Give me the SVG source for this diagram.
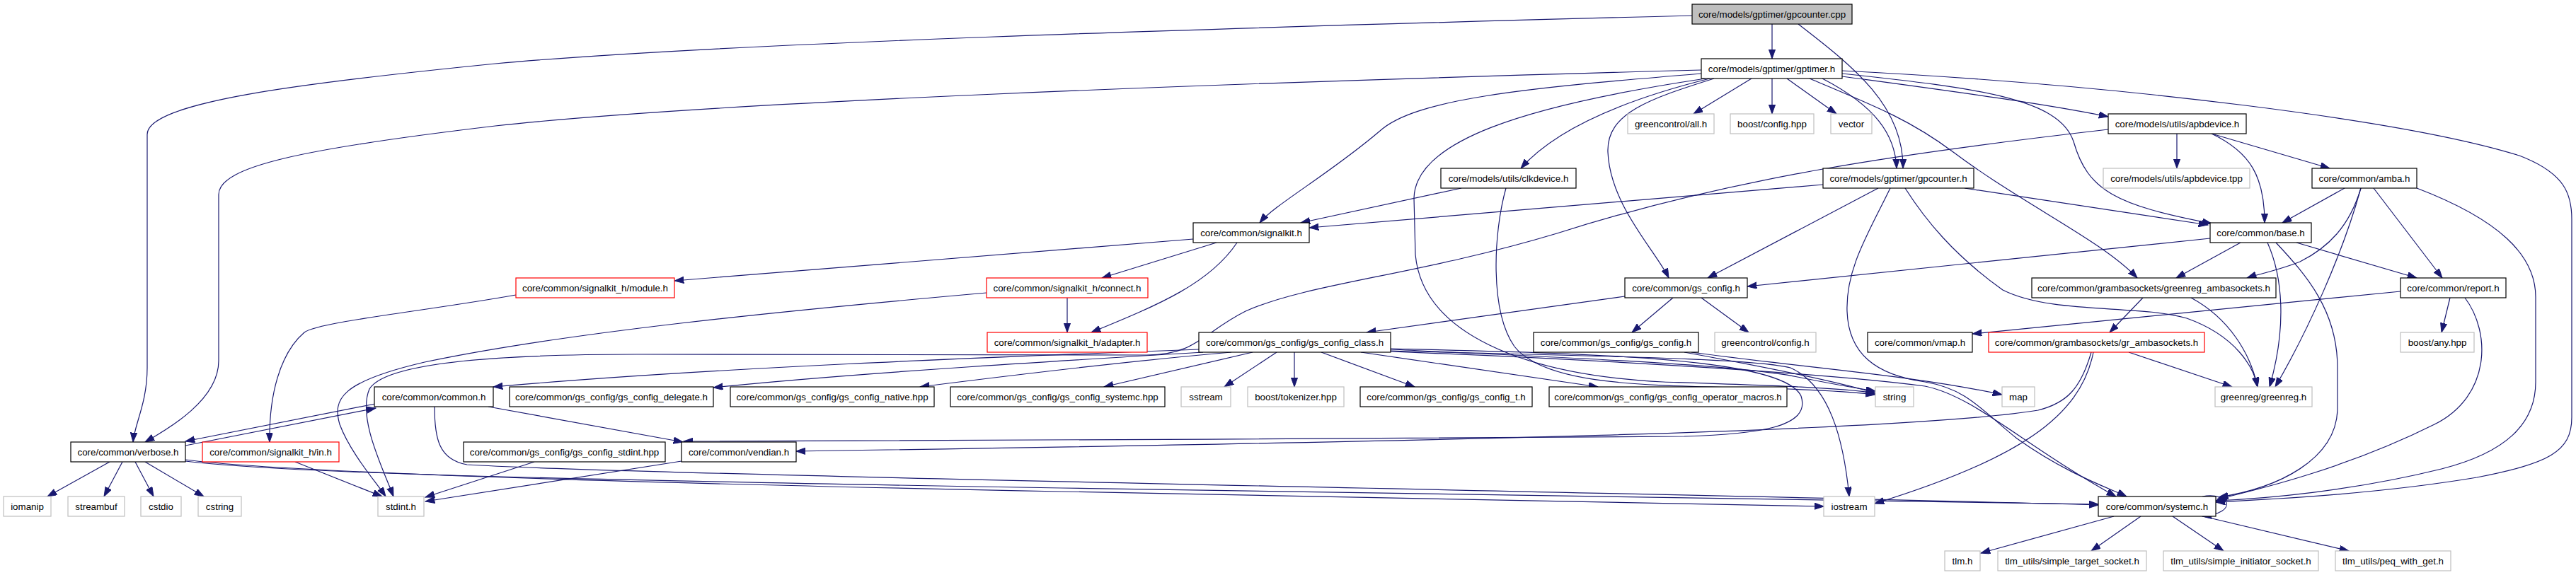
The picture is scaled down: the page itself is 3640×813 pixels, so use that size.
<svg xmlns="http://www.w3.org/2000/svg" width="3640" height="813" viewBox="0 0 3640 813">
<defs>
<marker id="a" markerUnits="userSpaceOnUse" markerWidth="14" markerHeight="10" refX="13.3" refY="4.7" orient="auto">
<path d="M0,0 L13.3,4.7 L0,9.4 z" fill="#191970" stroke="#191970" stroke-width="1"/>
</marker>
<style>
.n rect{fill:#ffffff;stroke:#000000;stroke-width:1.2}
.g rect{stroke:#bfbfbf}
.r rect{stroke:#ff0000}
.root rect{fill:#bfbfbf}
text{font-family:"Liberation Sans",Arial,Helvetica,sans-serif;font-size:13.33px;text-anchor:middle;fill:#000000}
#edges path{fill:none;stroke:#191970;stroke-width:1.2;marker-end:url(#a)}
</style>
</defs>
<rect x="0" y="0" width="3640" height="813" fill="#ffffff"/>
<g id="edges">
<path d="M2504,34 L2504,83"/>
<path d="M2541,34 C2620,95 2690,150 2689,238"/>
<path d="M2391,22 C1700,40 1000,62 700,90 C420,118 208,145 208,190 L208,520 C208,570 190,600 188,625"/>
<path d="M2404,99 C1700,118 1000,145 700,178 C430,210 309,235 309,275 L309,510 C309,565 240,605 205,625"/>
<path d="M2404,104 C2150,125 2000,140 1950,185 C1880,245 1800,290 1780,315"/>
<path d="M2416,111 C2300,140 2200,180 2149,238"/>
<path d="M2422,111 C2330,140 2270,160 2272,215 C2275,290 2340,355 2358,393"/>
<path d="M2410,111 C2150,150 2000,200 1998,280 L2000,360 C2010,470 2150,530 2350,540 C2500,545 2600,548 2650,556"/>
<path d="M2475,111 L2393,161"/>
<path d="M2504,111 L2504,161"/>
<path d="M2525,111 L2595,161"/>
<path d="M2575,111 C2650,150 2678,190 2680,238"/>
<path d="M2603,108 C2750,128 2880,145 2979,165"/>
<path d="M2603,104 C2800,125 2910,140 2930,200 C2950,270 2990,290 3125,316"/>
<path d="M2557,111 C2650,150 2700,170 2760,215 C2860,290 2970,340 3020,393"/>
<path d="M2603,100 C3000,120 3400,170 3560,220 C3625,245 3634,275 3634,310 L3634,590 C3634,640 3600,655 3500,675 C3350,700 3200,706 3131,710"/>
<path d="M2065,266 L1838,315"/>
<path d="M2128,266 C2110,330 2105,440 2140,490 C2180,540 2300,545 2450,548 C2550,550 2610,553 2650,558"/>
<path d="M2576,261 L1850,322"/>
<path d="M2654,266 L2413,393"/>
<path d="M2776,266 L3120,318"/>
<path d="M2692,266 C2720,310 2760,360 2830,410 C2900,445 3020,430 3090,450 C3160,475 3185,520 3190,547"/>
<path d="M2671,266 C2640,330 2608,380 2610,440 C2612,500 2650,530 2720,540 C2780,550 2800,580 2850,620 C2920,670 2980,690 3005,702"/>
<path d="M3076,189 L3076,238"/>
<path d="M3125,189 C3180,215 3200,250 3200,315"/>
<path d="M3125,189 L3292,238"/>
<path d="M2979,183 C2700,215 2450,250 2200,330 C2000,390 1850,400 1760,440 C1700,470 1690,502 1620,502 L900,501 C650,501 540,520 522,550 C505,590 540,660 556,702"/>
<path d="M3313,266 L3225,315"/>
<path d="M3336,266 C3320,320 3290,350 3250,370 C3220,382 3190,388 3175,393"/>
<path d="M3336,266 C3310,360 3260,470 3215,547"/>
<path d="M3354,266 L3451,393"/>
<path d="M3415,266 C3530,310 3583,360 3583,420 L3583,540 C3583,600 3540,640 3450,663 C3320,695 3200,705 3131,708"/>
<path d="M3123,337 L2469,405"/>
<path d="M3166,343 L3075,393"/>
<path d="M3245,343 L3415,393"/>
<path d="M3204,343 C3225,390 3232,460 3207,547"/>
<path d="M3216,343 C3260,390 3303,440 3303,520 L3303,580 C3300,650 3220,690 3135,703"/>
<path d="M3028,421 L2981,470"/>
<path d="M3096,421 C3150,450 3180,500 3190,547"/>
<path d="M3392,412 L2787,472"/>
<path d="M3462,421 L3450,470"/>
<path d="M3483,421 C3520,470 3520,560 3440,600 C3320,660 3200,690 3133,706"/>
<path d="M3008,498 L3154,547"/>
<path d="M2958,498 C2940,590 2850,650 2649,712"/>
<path d="M2955,498 C2940,550 2920,570 2880,580 C2700,610 2000,625 1125,638"/>
<path d="M2296,419 L1931,470"/>
<path d="M2364,421 L2306,470"/>
<path d="M2404,421 L2471,470"/>
<path d="M1694,494 C1400,505 1000,520 697,547"/>
<path d="M1700,498 C1500,510 1200,528 1008,548"/>
<path d="M1740,498 C1600,510 1450,528 1300,547"/>
<path d="M1770,498 L1560,547"/>
<path d="M1804,498 L1730,547"/>
<path d="M1829,498 L1829,547"/>
<path d="M1867,498 L1999,547"/>
<path d="M1923,498 L2258,547"/>
<path d="M1965,494 C2200,505 2450,515 2540,533 C2600,545 2630,550 2650,553"/>
<path d="M1965,496 C2200,503 2470,505 2530,520 C2585,545 2605,620 2613,702"/>
<path d="M1965,493 C2250,500 2520,505 2545,560 C2560,605 2480,614 2380,617 C2000,621 1300,622 966,624"/>
<path d="M1965,497 C2300,510 2600,530 2720,546 C2790,560 2860,630 2990,702"/>
<path d="M2380,498 C2500,520 2600,540 2650,556"/>
<path d="M2390,498 C2550,520 2700,530 2829,558"/>
<path d="M530,571 L262,624"/>
<path d="M262,630 L531,577"/>
<path d="M690,575 L965,625"/>
<path d="M614,575 C614,620 620,650 660,657 C900,672 2500,700 2965,714"/>
<path d="M262,652 C400,670 900,680 1500,690 C2200,700 2700,708 2965,713"/>
<path d="M262,650 C400,668 900,683 1500,695 C2000,705 2400,712 2577,716"/>
<path d="M155,653 L67,702"/>
<path d="M173,653 L147,702"/>
<path d="M191,653 L217,702"/>
<path d="M205,653 L288,702"/>
<path d="M417,653 L540,702"/>
<path d="M755,653 L601,703"/>
<path d="M963,652 L601,709"/>
<path d="M1686,338 L953,397"/>
<path d="M1719,343 L1557,393"/>
<path d="M1748,343 C1710,400 1640,430 1542,470"/>
<path d="M729,417 C600,440 450,455 430,470 C395,500 380,560 381,625"/>
<path d="M1508,421 L1508,470"/>
<path d="M1394,414 C1100,440 800,470 600,512 C480,540 470,565 480,600 C495,640 530,680 545,702"/>
<path d="M3112,702 C3150,695 3165,725 3112,730"/>
<path d="M2987,730 L2799,782"/>
<path d="M3025,730 L2955,779"/>
<path d="M3070,730 L3142,779"/>
<path d="M3113,730 L3319,779"/>
</g>
<g id="n1" class="n root"><rect x="2391" y="6" width="226" height="28"/><text x="2504" y="24.5">core/models/gptimer/gpcounter.cpp</text></g>
<g id="n2" class="n"><rect x="2404" y="83" width="199" height="28"/><text x="2503.5" y="101.5">core/models/gptimer/gptimer.h</text></g>
<g id="n3" class="n g"><rect x="2300" y="161" width="122" height="28"/><text x="2361" y="179.5">greencontrol/all.h</text></g>
<g id="n4" class="n g"><rect x="2445" y="161" width="118" height="28"/><text x="2504" y="179.5">boost/config.hpp</text></g>
<g id="n5" class="n g"><rect x="2587" y="161" width="58" height="28"/><text x="2616" y="179.5">vector</text></g>
<g id="n6" class="n"><rect x="2979" y="161" width="195" height="28"/><text x="3076.5" y="179.5">core/models/utils/apbdevice.h</text></g>
<g id="n7" class="n"><rect x="2036" y="238" width="191" height="28"/><text x="2131.5" y="256.5">core/models/utils/clkdevice.h</text></g>
<g id="n8" class="n"><rect x="2576" y="238" width="213" height="28"/><text x="2682.5" y="256.5">core/models/gptimer/gpcounter.h</text></g>
<g id="n9" class="n g"><rect x="2972" y="238" width="207" height="28"/><text x="3075.5" y="256.5">core/models/utils/apbdevice.tpp</text></g>
<g id="n10" class="n"><rect x="3267" y="238" width="148" height="28"/><text x="3341" y="256.5">core/common/amba.h</text></g>
<g id="n11" class="n"><rect x="1686" y="315" width="164" height="28"/><text x="1768" y="333.5">core/common/signalkit.h</text></g>
<g id="n12" class="n"><rect x="3123" y="315" width="143" height="28"/><text x="3194.5" y="333.5">core/common/base.h</text></g>
<g id="n13" class="n r"><rect x="729" y="393" width="224" height="28"/><text x="841" y="411.5">core/common/signalkit_h/module.h</text></g>
<g id="n14" class="n r"><rect x="1394" y="393" width="228" height="28"/><text x="1508" y="411.5">core/common/signalkit_h/connect.h</text></g>
<g id="n15" class="n"><rect x="2296" y="393" width="173" height="28"/><text x="2382.5" y="411.5">core/common/gs_config.h</text></g>
<g id="n16" class="n"><rect x="2871" y="393" width="345" height="28"/><text x="3043.5" y="411.5">core/common/grambasockets/greenreg_ambasockets.h</text></g>
<g id="n17" class="n"><rect x="3392" y="393" width="149" height="28"/><text x="3466.5" y="411.5">core/common/report.h</text></g>
<g id="n18" class="n r"><rect x="1395" y="470" width="226" height="28"/><text x="1508" y="488.5">core/common/signalkit_h/adapter.h</text></g>
<g id="n19" class="n"><rect x="1694" y="470" width="271" height="28"/><text x="1829.5" y="488.5">core/common/gs_config/gs_config_class.h</text></g>
<g id="n20" class="n"><rect x="2167" y="470" width="233" height="28"/><text x="2283.5" y="488.5">core/common/gs_config/gs_config.h</text></g>
<g id="n21" class="n g"><rect x="2423" y="470" width="143" height="28"/><text x="2494.5" y="488.5">greencontrol/config.h</text></g>
<g id="n22" class="n"><rect x="2639" y="470" width="148" height="28"/><text x="2713" y="488.5">core/common/vmap.h</text></g>
<g id="n23" class="n r"><rect x="2810" y="470" width="305" height="28"/><text x="2962.5" y="488.5">core/common/grambasockets/gr_ambasockets.h</text></g>
<g id="n24" class="n g"><rect x="3392" y="470" width="104" height="28"/><text x="3444" y="488.5">boost/any.hpp</text></g>
<g id="n25" class="n"><rect x="529" y="547" width="168" height="28"/><text x="613" y="565.5">core/common/common.h</text></g>
<g id="n26" class="n"><rect x="720" y="547" width="288" height="28"/><text x="864" y="565.5">core/common/gs_config/gs_config_delegate.h</text></g>
<g id="n27" class="n"><rect x="1032" y="547" width="288" height="28"/><text x="1176" y="565.5">core/common/gs_config/gs_config_native.hpp</text></g>
<g id="n28" class="n"><rect x="1343" y="547" width="303" height="28"/><text x="1494.5" y="565.5">core/common/gs_config/gs_config_systemc.hpp</text></g>
<g id="n29" class="n g"><rect x="1669" y="547" width="70" height="28"/><text x="1704" y="565.5">sstream</text></g>
<g id="n30" class="n g"><rect x="1763" y="547" width="136" height="28"/><text x="1831" y="565.5">boost/tokenizer.hpp</text></g>
<g id="n31" class="n"><rect x="1922" y="547" width="243" height="28"/><text x="2043.5" y="565.5">core/common/gs_config/gs_config_t.h</text></g>
<g id="n32" class="n"><rect x="2189" y="547" width="336" height="28"/><text x="2357" y="565.5">core/common/gs_config/gs_config_operator_macros.h</text></g>
<g id="n33" class="n g"><rect x="2650" y="547" width="54" height="28"/><text x="2677" y="565.5">string</text></g>
<g id="n34" class="n g"><rect x="2829" y="547" width="46" height="28"/><text x="2852" y="565.5">map</text></g>
<g id="n35" class="n g"><rect x="3130" y="547" width="137" height="28"/><text x="3198.5" y="565.5">greenreg/greenreg.h</text></g>
<g id="n36" class="n"><rect x="100" y="625" width="162" height="28"/><text x="181" y="643.5">core/common/verbose.h</text></g>
<g id="n37" class="n r"><rect x="286" y="625" width="193" height="28"/><text x="382.5" y="643.5">core/common/signalkit_h/in.h</text></g>
<g id="n38" class="n"><rect x="655" y="625" width="285" height="28"/><text x="797.5" y="643.5">core/common/gs_config/gs_config_stdint.hpp</text></g>
<g id="n39" class="n"><rect x="963" y="625" width="162" height="28"/><text x="1044" y="643.5">core/common/vendian.h</text></g>
<g id="n40" class="n g"><rect x="5" y="702" width="67" height="28"/><text x="38.5" y="720.5">iomanip</text></g>
<g id="n41" class="n g"><rect x="96" y="702" width="80" height="28"/><text x="136" y="720.5">streambuf</text></g>
<g id="n42" class="n g"><rect x="199" y="702" width="57" height="28"/><text x="227.5" y="720.5">cstdio</text></g>
<g id="n43" class="n g"><rect x="280" y="702" width="61" height="28"/><text x="310.5" y="720.5">cstring</text></g>
<g id="n44" class="n g"><rect x="534" y="702" width="65" height="28"/><text x="566.5" y="720.5">stdint.h</text></g>
<g id="n45" class="n g"><rect x="2577" y="702" width="72" height="28"/><text x="2613" y="720.5">iostream</text></g>
<g id="n46" class="n"><rect x="2965" y="702" width="166" height="28"/><text x="3048" y="720.5">core/common/systemc.h</text></g>
<g id="n47" class="n g"><rect x="2748" y="779" width="50" height="28"/><text x="2773" y="797.5">tlm.h</text></g>
<g id="n48" class="n g"><rect x="2823" y="779" width="210" height="28"/><text x="2928" y="797.5">tlm_utils/simple_target_socket.h</text></g>
<g id="n49" class="n g"><rect x="3057" y="779" width="219" height="28"/><text x="3166.5" y="797.5">tlm_utils/simple_initiator_socket.h</text></g>
<g id="n50" class="n g"><rect x="3300" y="779" width="163" height="28"/><text x="3381.5" y="797.5">tlm_utils/peq_with_get.h</text></g>
</svg>
